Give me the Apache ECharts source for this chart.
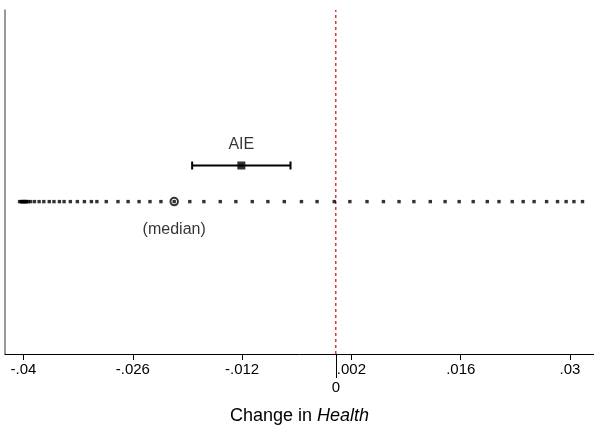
<!DOCTYPE html>
<html>
<head>
<meta charset="utf-8">
<script src="https://cdn.jsdelivr.net/npm/echarts@6/dist/echarts.min.js"></script>
<style>
html,body{margin:0;padding:0;background:#fff;}
#chart{width:594px;height:435px;}
</style>
</head>
<body>
<div id="chart"></div>
<script>
// ---- data ----
const tickValues = [-0.04, -0.026, -0.012, 0.002, 0.016, 0.03];
const zeroTick = [0];
const refLineX = 0;
const distDots = [
  -0.0405, -0.0403, -0.0402, -0.0401, -0.0400, -0.0399, -0.0398, -0.0397, -0.0396, -0.0394,
  -0.0391, -0.0386, -0.0380, -0.0374, -0.0367, -0.0361, -0.0354, -0.0348, -0.0340, -0.0331,
  -0.0322, -0.0313, -0.0306, -0.0294, -0.0279, -0.0266, -0.0252, -0.0238, -0.0224,
  -0.0207,
  -0.0187, -0.0169, -0.0148, -0.0128, -0.0107, -0.0087, -0.0066, -0.0044, -0.0024, -0.0002,
  0.0018, 0.0040, 0.0061, 0.0081, 0.0100, 0.0121, 0.0140, 0.0158, 0.0176, 0.0194,
  0.0209, 0.0226, 0.0240, 0.0254, 0.0270, 0.0284, 0.0295, 0.0305, 0.0316
];
const medianValue = -0.0207;
const aieEstimate = -0.0121;
const aieLo = -0.0184;
const aieHi = -0.0058;
const medianText = '(median)';
const aieText = 'AIE';

// ---- layout constants (not data) ----
const rowDist = 0.443;
const rowAIE = 0.548;
const X_MIN = -0.04237, X_MAX = 0.03307;
const FONT = '"Liberation Sans", Arial, Helvetica, sans-serif';

function fmt(v) {
  if (Math.abs(v) < 1e-12) return '0';
  let s = String(+v.toFixed(4));
  return s.replace('0.', '.');
}

const chart = echarts.init(document.getElementById('chart'), null, {renderer: 'canvas'});
const option = {
  animation: false,
  backgroundColor: '#fff',
  textStyle: {fontFamily: FONT},
  grid: {left: 5, right: 0, top: 10, bottom: 81, containLabel: false},
  xAxis: [
    {
      type: 'value', min: X_MIN, max: X_MAX, position: 'bottom',
      axisLine: {show: true, onZero: false, lineStyle: {color: '#000', width: 1}},
      axisTick: {show: true, customValues: tickValues, length: 6, lineStyle: {color: '#000', width: 1}},
      axisLabel: {customValues: tickValues, formatter: fmt, color: '#000', fontSize: 15, margin: 8, fontFamily: FONT},
      splitLine: {show: false},
      name: '{a|Change in }{b|Health}',
      nameLocation: 'middle',
      nameGap: 53,
      nameTextStyle: {
        rich: {
          a: {fontSize: 18, color: '#000', fontFamily: FONT},
          b: {fontSize: 18, color: '#000', fontStyle: 'italic', fontFamily: FONT}
        }
      }
    },
    {
      type: 'value', min: X_MIN, max: X_MAX, position: 'bottom', offset: 0,
      axisLine: {show: false},
      axisTick: {show: true, customValues: zeroTick, length: 24, lineStyle: {color: '#000', width: 1}},
      axisLabel: {customValues: zeroTick, formatter: fmt, color: '#000', fontSize: 15, margin: 26, fontFamily: FONT},
      splitLine: {show: false}
    }
  ],
  yAxis: {
    type: 'value', min: 0, max: 1,
    axisLine: {show: true, onZero: false, lineStyle: {color: '#777', width: 1.5}},
    axisTick: {show: false}, axisLabel: {show: false}, splitLine: {show: false}
  },
  series: [
    {
      type: 'line', name: 'zero', symbol: 'none', silent: true,
      lineStyle: {color: '#e00000', type: [3, 3], width: 1.2},
      data: [[refLineX, 0], [refLineX, 1]],
      z: 1
    },
    {
      type: 'scatter', name: 'dist', symbol: 'rect', symbolSize: 3.4,
      itemStyle: {color: '#000'},
      data: distDots.map(v => [v, rowDist]),
      z: 3
    },
    {
      type: 'scatter', name: 'median', symbol: 'emptyCircle', symbolSize: 7.5,
      itemStyle: {color: '#000', borderColor: '#000', borderWidth: 1.6},
      label: {show: true, position: 'bottom', distance: 15, formatter: medianText, color: '#000', fontSize: 16, fontFamily: FONT},
      data: [[medianValue, rowDist]],
      z: 2
    },
    {
      type: 'custom', name: 'aieCI',
      renderItem: function (params, api) {
        const lo = api.coord([api.value(0), api.value(2)]);
        const hi = api.coord([api.value(1), api.value(2)]);
        const st = {stroke: '#000', lineWidth: 2};
        return {
          type: 'group',
          children: [
            {type: 'line', shape: {x1: lo[0], y1: lo[1], x2: hi[0], y2: hi[1]}, style: st},
            {type: 'line', shape: {x1: lo[0], y1: lo[1] - 4, x2: lo[0], y2: lo[1] + 4}, style: st},
            {type: 'line', shape: {x1: hi[0], y1: hi[1] - 4, x2: hi[0], y2: hi[1] + 4}, style: st}
          ]
        };
      },
      encode: {x: [0, 1], y: 2},
      data: [[aieLo, aieHi, rowAIE]],
      z: 3
    },
    {
      type: 'scatter', name: 'AIE', symbol: 'rect', symbolSize: 8,
      itemStyle: {color: '#000'},
      label: {show: true, position: 'top', distance: 9, formatter: aieText, color: '#000', fontSize: 16, fontFamily: FONT},
      data: [[aieEstimate, rowAIE]],
      z: 4
    }
  ]
};
chart.setOption(option);
</script>
</body>
</html>
